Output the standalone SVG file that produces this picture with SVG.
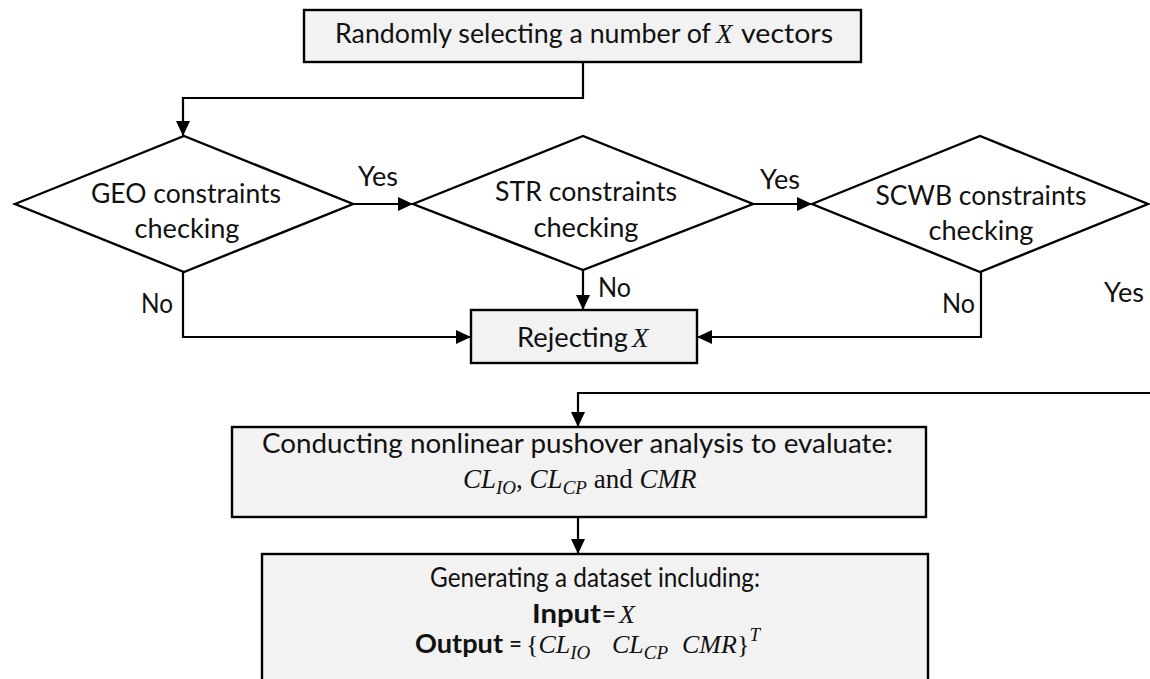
<svg xmlns="http://www.w3.org/2000/svg" width="1150" height="679" viewBox="0 0 1150 679">
  <style>
    .box { fill: #f2f2f2; stroke: #000; stroke-width: 2.4; }
    .dia { fill: #fff; stroke: #000; stroke-width: 2.4; }
    .wire { fill: none; stroke: #000; stroke-width: 2.2; }
    .t { font-family: Lato, "Liberation Sans", sans-serif; font-size: 27px; fill: #111; }
    .s { font-size: 26px; }
    .b { font-weight: bold; }
    .m { font-family: "Liberation Serif", serif; font-style: italic; font-size: 27px; fill: #111; }
    .ms { font-size: 26px; }
    .up { font-style: normal; }
    .sub { font-size: 19px; }
  </style>
  <defs>
    <marker id="arrow" markerUnits="userSpaceOnUse" markerWidth="16" markerHeight="14" refX="15" refY="7" orient="auto">
      <path d="M0,0 L15,7 L0,14 Z" fill="#000"/>
    </marker>
  </defs>

  <rect width="1150" height="679" fill="#fff"/>

  <!-- connectors -->
  <g id="connectors" class="wire" marker-end="url(#arrow)">
    <polyline points="583,62 583,98 183,98 183,136"/>
    <polyline points="353,204 413,204"/>
    <polyline points="753,204 812,204"/>
    <polyline points="183,272 183,337 471,337"/>
    <polyline points="583,270 583,310"/>
    <polyline points="981,272 981,337 697,337"/>
    <polyline points="1152,393 578,393 578,427"/>
    <polyline points="578,517 578,554"/>
  </g>

  <!-- connector labels -->
  <g id="labels" class="t">
    <text x="358" y="186" textLength="40" lengthAdjust="spacingAndGlyphs">Yes</text>
    <text x="760" y="189" textLength="40" lengthAdjust="spacingAndGlyphs">Yes</text>
    <text x="141" y="313" textLength="32" lengthAdjust="spacingAndGlyphs">No</text>
    <text x="598" y="297" textLength="33" lengthAdjust="spacingAndGlyphs">No</text>
    <text x="942" y="313" textLength="33" lengthAdjust="spacingAndGlyphs">No</text>
    <text x="1104" y="302" textLength="40" lengthAdjust="spacingAndGlyphs">Yes</text>
  </g>

  <!-- start box -->
  <g id="select">
    <rect class="box" x="304" y="10" width="557" height="52"/>
    <text class="t" x="335" y="43" textLength="376" lengthAdjust="spacingAndGlyphs">Randomly selecting a number of</text>
    <text class="m" x="716" y="43" font-size="28">X</text>
    <text class="t" x="741" y="43" textLength="92" lengthAdjust="spacingAndGlyphs">vectors</text>
  </g>

  <!-- decision nodes -->
  <g id="geo">
    <polygon class="dia" points="15,204 184,136 353,204 184,272"/>
    <text class="t" x="186" y="203" text-anchor="middle" textLength="190" lengthAdjust="spacingAndGlyphs">GEO constraints</text>
    <text class="t" x="187" y="238" text-anchor="middle" textLength="105" lengthAdjust="spacingAndGlyphs">checking</text>
  </g>
  <g id="str">
    <polygon class="dia" points="413,204 583,136 753,204 583,270"/>
    <text class="t" x="586" y="201" text-anchor="middle" textLength="182" lengthAdjust="spacingAndGlyphs">STR constraints</text>
    <text class="t" x="586" y="237" text-anchor="middle" textLength="105" lengthAdjust="spacingAndGlyphs">checking</text>
  </g>
  <g id="scwb">
    <polygon class="dia" points="812,204 980,136 1148,204 980,272"/>
    <text class="t" x="981" y="205" text-anchor="middle" textLength="211" lengthAdjust="spacingAndGlyphs">SCWB constraints</text>
    <text class="t" x="981" y="240" text-anchor="middle" textLength="105" lengthAdjust="spacingAndGlyphs">checking</text>
  </g>

  <!-- reject box -->
  <g id="reject">
    <rect class="box" x="471" y="310" width="226" height="53"/>
    <text class="t" x="517" y="347" textLength="111" lengthAdjust="spacingAndGlyphs">Rejecting</text>
    <text class="m" x="632" y="347" font-size="28">X</text>
  </g>

  <!-- analysis box -->
  <g id="pushover">
    <rect class="box" x="232" y="427" width="694" height="90"/>
    <text class="t" x="262" y="453" textLength="631" lengthAdjust="spacingAndGlyphs">Conducting nonlinear pushover analysis to evaluate:</text>
    <text class="m" x="463" y="488">CL<tspan class="sub" dy="6">IO</tspan><tspan class="up" dy="-6">, </tspan>CL<tspan class="sub" dy="6">CP</tspan><tspan class="up" dy="-6"> and </tspan>CMR</text>
  </g>

  <!-- dataset box -->
  <g id="dataset">
    <rect class="box" x="262" y="554" width="666" height="140"/>
    <text class="t s" x="430" y="587" textLength="330" lengthAdjust="spacingAndGlyphs">Generating a dataset including:</text>
    <text class="t s b" x="532" y="623" textLength="69" lengthAdjust="spacingAndGlyphs">Input</text>
    <text class="t s" x="602" y="623" textLength="14" lengthAdjust="spacingAndGlyphs">=</text>
    <text class="m ms" x="619" y="623">X</text>
    <text class="t s b" x="415" y="653" textLength="88" lengthAdjust="spacingAndGlyphs">Output</text>
    <text class="t s" x="509" y="653" textLength="13" lengthAdjust="spacingAndGlyphs">=</text>
    <text class="m ms" x="526" y="653"><tspan class="up">{</tspan>CL<tspan class="sub" dy="6">IO</tspan><tspan x="612" dy="-6">CL</tspan><tspan class="sub" dy="6">CP</tspan><tspan x="682" dy="-6">CMR</tspan><tspan class="up">}</tspan><tspan class="sub" dy="-12">T</tspan></text>
  </g>
</svg>
